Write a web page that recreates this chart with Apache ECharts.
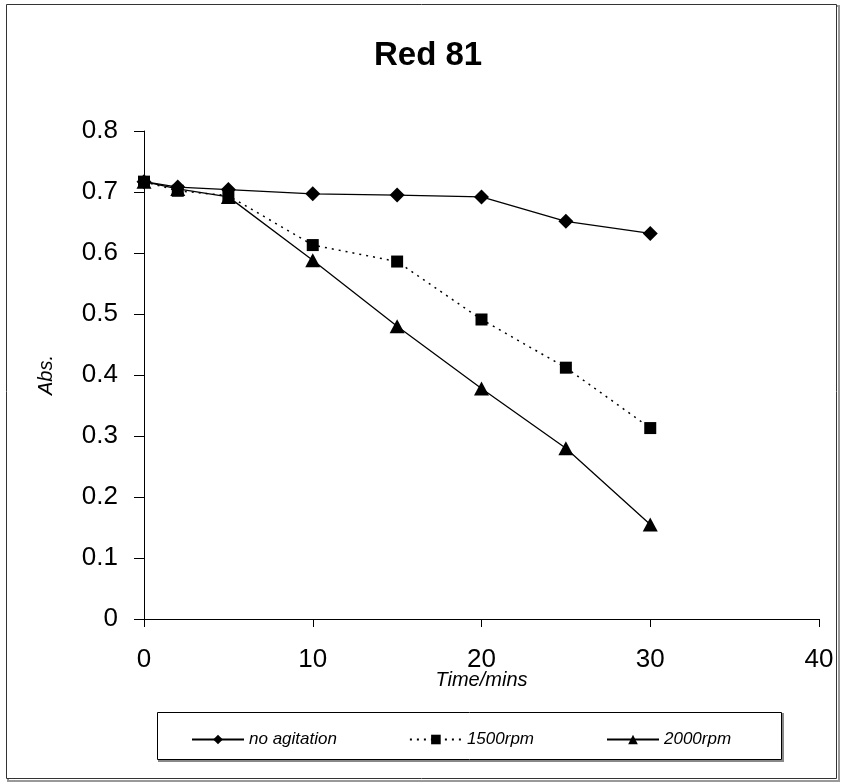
<!DOCTYPE html>
<html>
<head>
<meta charset="utf-8">
<script src="https://cdn.jsdelivr.net/npm/echarts@6/dist/echarts.min.js"></script>
<style>
  html, body { margin: 0; padding: 0; background: #fff; }
  #chart { width: 842px; height: 784px; }
</style>
</head>
<body>
<div id="chart"></div>
<script>
// Sampling times (minutes)
const times = [0, 2, 5, 10, 15, 20, 25, 30];
// Absorbance readings for each agitation condition
const noAgitation = [0.717, 0.708, 0.704, 0.697, 0.695, 0.692, 0.652, 0.632];
const rpm1500 = [0.717, 0.702, 0.694, 0.613, 0.586, 0.491, 0.412, 0.313];
const rpm2000 = [0.717, 0.705, 0.692, 0.588, 0.480, 0.378, 0.280, 0.155];
const seriesNames = ['no agitation', '1500rpm', '2000rpm'];

const pairs = (ys) => times.map((t, i) => [t, ys[i]]);
const FONT = "'Liberation Sans', Arial, sans-serif";

const chart = echarts.init(document.getElementById('chart'), null, { renderer: 'canvas' });

const baseSeries = {
  type: 'line',
  color: '#000',
  lineStyle: { color: '#000', width: 1.3 },
  itemStyle: { color: '#000' },
  emphasis: { disabled: true },
  animation: false
};

chart.setOption({
  backgroundColor: '#fff',
  animation: false,
  title: {
    text: 'Red 81',
    left: 369,
    top: 34,
    textStyle: { fontFamily: FONT, fontWeight: 'bold', fontSize: 33, color: '#000' }
  },
  graphic: [
    // outer frame with a soft shadow edge
    { type: 'rect', shape: { x: 8, y: 6, width: 831, height: 775 }, style: { fill: 'none', stroke: '#999', lineWidth: 2 }, z: -2, silent: true },
    { type: 'rect', shape: { x: 6.5, y: 4.5, width: 830, height: 774 }, style: { fill: '#fff', stroke: '#333', lineWidth: 1 }, z: -1, silent: true },
    // legend frame
    { type: 'rect', shape: { x: 159, y: 714, width: 624, height: 47 }, style: { fill: 'none', stroke: '#888', lineWidth: 2 }, z: 0, silent: true },
    { type: 'rect', shape: { x: 157.5, y: 712.5, width: 624, height: 47 }, style: { fill: '#fff', stroke: '#000', lineWidth: 1 }, z: 1, silent: true }
  ],
  legend: {
    data: seriesNames,
    top: 726,
    left: 186,
    itemGap: 72,
    itemWidth: 52,
    itemHeight: 12,
    z: 5,
    textStyle: { fontFamily: FONT, fontStyle: 'italic', fontSize: 17, color: '#000' },
    selectedMode: false
  },
  grid: { left: 144, right: 23, top: 131, bottom: 165, containLabel: false },
  xAxis: {
    type: 'value',
    min: 0,
    max: 40,
    interval: 10,
    name: 'Time/mins',
    nameLocation: 'middle',
    nameGap: 51,
    nameMoveOverlap: false,
    nameTextStyle: { fontFamily: FONT, fontStyle: 'italic', fontSize: 20, color: '#000' },
    axisLine: { show: true, onZero: false, lineStyle: { color: '#000', width: 1 } },
    axisTick: { show: true, inside: false, length: 8, lineStyle: { color: '#000' } },
    axisLabel: { fontFamily: FONT, fontSize: 26, color: '#000', margin: 28 },
    splitLine: { show: false }
  },
  yAxis: {
    type: 'value',
    min: 0,
    max: 0.8,
    interval: 0.1,
    name: 'Abs.',
    nameLocation: 'middle',
    nameGap: 88,
    nameMoveOverlap: false,
    nameRotate: 90,
    nameTextStyle: { fontFamily: FONT, fontStyle: 'italic', fontSize: 20, color: '#000' },
    axisLine: { show: true, lineStyle: { color: '#000', width: 1 } },
    axisTick: { show: true, inside: false, length: 10, lineStyle: { color: '#000' } },
    axisLabel: { fontFamily: FONT, fontSize: 26, color: '#000', margin: 26 },
    splitLine: { show: false }
  },
  series: [
    Object.assign({}, baseSeries, {
      name: seriesNames[0],
      data: pairs(noAgitation),
      symbol: 'diamond',
      symbolSize: [15, 15],
      z: 2
    }),
    Object.assign({}, baseSeries, {
      name: seriesNames[2],
      data: pairs(rpm2000),
      symbol: 'triangle',
      symbolSize: [15, 14],
      z: 3
    }),
    Object.assign({}, baseSeries, {
      name: seriesNames[1],
      data: pairs(rpm1500),
      symbol: 'rect',
      symbolSize: [12, 12],
      lineStyle: { color: '#000', width: 1.5, type: [2, 5] },
      z: 4
    })
  ]
});
</script>
</body>
</html>
